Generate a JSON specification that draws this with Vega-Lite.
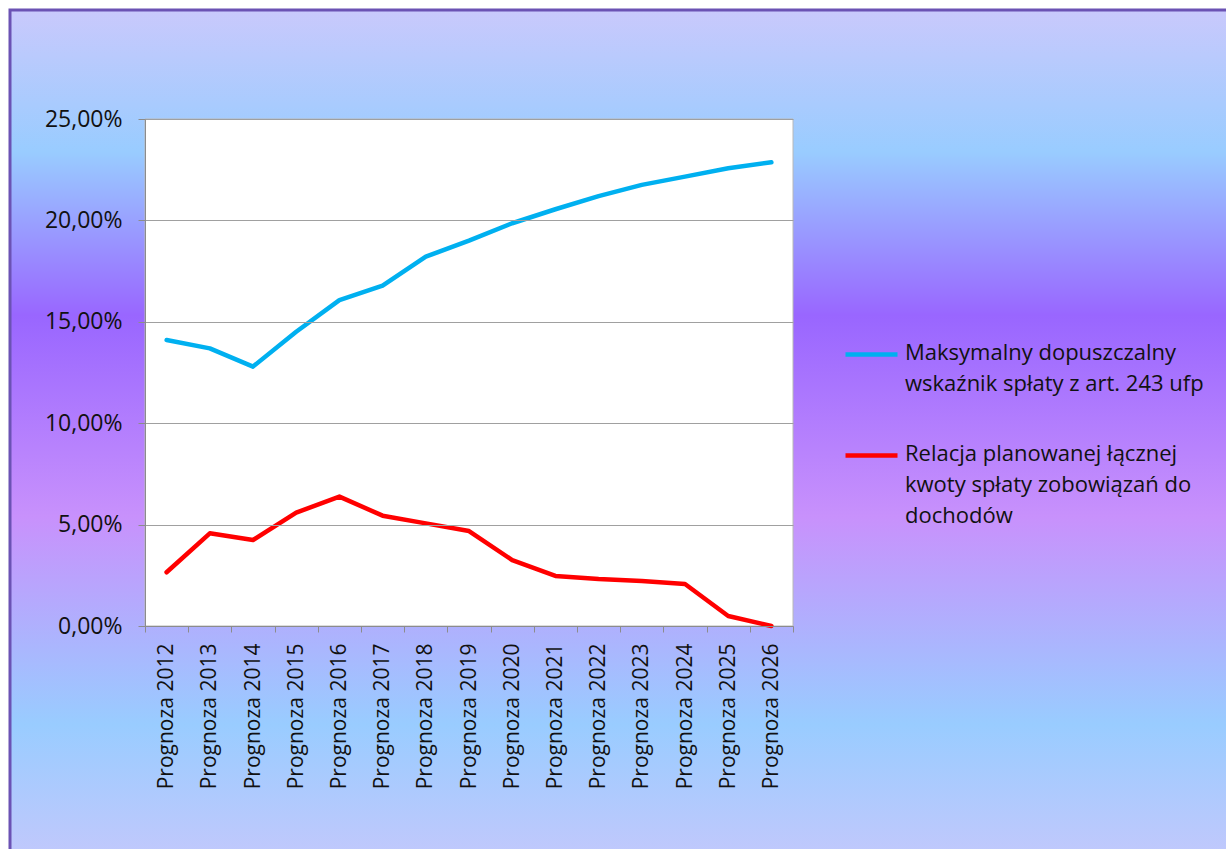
{
  "$schema": "https://vega.github.io/schema/vega-lite/v6.json",
  "width": 648,
  "height": 507,
  "autosize": {"type": "none"},
  "padding": {"left": 145, "top": 119, "right": 433, "bottom": 223},
  "background": "white",
  "config": {
    "view": {"stroke": null},
    "font": "Open Sans"
  },
  "layer": [
    {
      "data": {"values": [{}]},
      "mark": {
        "type": "rect",
        "x": -135, "y": -109, "x2": 1090, "y2": 740,
        "stroke": "#6b52b4", "strokeWidth": 3,
        "fill": {
          "gradient": "linear", "x1": 0, "y1": 0, "x2": 0, "y2": 1,
          "stops": [
            {"offset": 0, "color": "#c9c9fc"},
            {"offset": 0.167, "color": "#99ccff"},
            {"offset": 0.36, "color": "#9966ff"},
            {"offset": 0.597, "color": "#c891fc"},
            {"offset": 0.841, "color": "#99ccff"},
            {"offset": 1, "color": "#c2c8fc"}
          ]
        }
      },
      "encoding": {}
    },
    {
      "data": {"values": [{}]},
      "mark": {
        "type": "rect",
        "x": 0, "y": 0, "x2": 648, "y2": 507,
        "fill": "white", "stroke": "#b8b8b8", "strokeWidth": 1
      },
      "encoding": {}
    },
    {
      "data": {
        "values": [
          {"rok": "Prognoza 2012", "seria": "Maksymalny dopuszczalny wskaźnik spłaty z art. 243 ufp", "wartosc": 0.1410},
          {"rok": "Prognoza 2013", "seria": "Maksymalny dopuszczalny wskaźnik spłaty z art. 243 ufp", "wartosc": 0.1369},
          {"rok": "Prognoza 2014", "seria": "Maksymalny dopuszczalny wskaźnik spłaty z art. 243 ufp", "wartosc": 0.1279},
          {"rok": "Prognoza 2015", "seria": "Maksymalny dopuszczalny wskaźnik spłaty z art. 243 ufp", "wartosc": 0.1451},
          {"rok": "Prognoza 2016", "seria": "Maksymalny dopuszczalny wskaźnik spłaty z art. 243 ufp", "wartosc": 0.1607},
          {"rok": "Prognoza 2017", "seria": "Maksymalny dopuszczalny wskaźnik spłaty z art. 243 ufp", "wartosc": 0.1678},
          {"rok": "Prognoza 2018", "seria": "Maksymalny dopuszczalny wskaźnik spłaty z art. 243 ufp", "wartosc": 0.1821},
          {"rok": "Prognoza 2019", "seria": "Maksymalny dopuszczalny wskaźnik spłaty z art. 243 ufp", "wartosc": 0.1900},
          {"rok": "Prognoza 2020", "seria": "Maksymalny dopuszczalny wskaźnik spłaty z art. 243 ufp", "wartosc": 0.1986},
          {"rok": "Prognoza 2021", "seria": "Maksymalny dopuszczalny wskaźnik spłaty z art. 243 ufp", "wartosc": 0.2055},
          {"rok": "Prognoza 2022", "seria": "Maksymalny dopuszczalny wskaźnik spłaty z art. 243 ufp", "wartosc": 0.2120},
          {"rok": "Prognoza 2023", "seria": "Maksymalny dopuszczalny wskaźnik spłaty z art. 243 ufp", "wartosc": 0.2175},
          {"rok": "Prognoza 2024", "seria": "Maksymalny dopuszczalny wskaźnik spłaty z art. 243 ufp", "wartosc": 0.2216},
          {"rok": "Prognoza 2025", "seria": "Maksymalny dopuszczalny wskaźnik spłaty z art. 243 ufp", "wartosc": 0.2257},
          {"rok": "Prognoza 2026", "seria": "Maksymalny dopuszczalny wskaźnik spłaty z art. 243 ufp", "wartosc": 0.2287},
          {"rok": "Prognoza 2012", "seria": "Relacja planowanej łącznej kwoty spłaty zobowiązań do dochodów", "wartosc": 0.0265},
          {"rok": "Prognoza 2013", "seria": "Relacja planowanej łącznej kwoty spłaty zobowiązań do dochodów", "wartosc": 0.0457},
          {"rok": "Prognoza 2014", "seria": "Relacja planowanej łącznej kwoty spłaty zobowiązań do dochodów", "wartosc": 0.0424},
          {"rok": "Prognoza 2015", "seria": "Relacja planowanej łącznej kwoty spłaty zobowiązań do dochodów", "wartosc": 0.0559},
          {"rok": "Prognoza 2016", "seria": "Relacja planowanej łącznej kwoty spłaty zobowiązań do dochodów", "wartosc": 0.0638},
          {"rok": "Prognoza 2017", "seria": "Relacja planowanej łącznej kwoty spłaty zobowiązań do dochodów", "wartosc": 0.0544},
          {"rok": "Prognoza 2018", "seria": "Relacja planowanej łącznej kwoty spłaty zobowiązań do dochodów", "wartosc": 0.0506},
          {"rok": "Prognoza 2019", "seria": "Relacja planowanej łącznej kwoty spłaty zobowiązań do dochodów", "wartosc": 0.0468},
          {"rok": "Prognoza 2020", "seria": "Relacja planowanej łącznej kwoty spłaty zobowiązań do dochodów", "wartosc": 0.0325},
          {"rok": "Prognoza 2021", "seria": "Relacja planowanej łącznej kwoty spłaty zobowiązań do dochodów", "wartosc": 0.0247},
          {"rok": "Prognoza 2022", "seria": "Relacja planowanej łącznej kwoty spłaty zobowiązań do dochodów", "wartosc": 0.0232},
          {"rok": "Prognoza 2023", "seria": "Relacja planowanej łącznej kwoty spłaty zobowiązań do dochodów", "wartosc": 0.0222},
          {"rok": "Prognoza 2024", "seria": "Relacja planowanej łącznej kwoty spłaty zobowiązań do dochodów", "wartosc": 0.0207},
          {"rok": "Prognoza 2025", "seria": "Relacja planowanej łącznej kwoty spłaty zobowiązań do dochodów", "wartosc": 0.0049},
          {"rok": "Prognoza 2026", "seria": "Relacja planowanej łącznej kwoty spłaty zobowiązań do dochodów", "wartosc": 0.0}
        ]
      },
      "mark": {"type": "line", "strokeWidth": 4.5, "strokeCap": "round", "strokeJoin": "round", "zindex": 2},
      "encoding": {
        "x": {
          "field": "rok", "type": "ordinal", "bandPosition": 0.5,
          "scale": {"type": "band", "paddingInner": 0, "paddingOuter": 0},
          "axis": {
            "title": null, "labelAngle": -90, "tickBand": "extent", "tickSize": 6,
            "tickColor": "#8c8c8c", "domainColor": "#8c8c8c", "labelPadding": 11,
            "labelFont": "Open Sans", "labelFontSize": 21, "labelColor": "#111111",
            "grid": false, "zindex": 1
          }
        },
        "y": {
          "field": "wartosc", "type": "quantitative",
          "scale": {"domain": [0, 0.25], "nice": false},
          "axis": {
            "title": null, "values": [0, 0.05, 0.1, 0.15, 0.2, 0.25],
            "labelExpr": "replace(format(datum.value, '.2%'), '.', ',')",
            "tickSize": 7, "labelPadding": 16, "grid": true,
            "gridColor": "#a0a0a0", "gridWidth": 1.2, "domainColor": "#8c8c8c", "tickColor": "#8c8c8c",
            "labelFont": "Open Sans", "labelFontSize": 23, "labelColor": "#111111", "zindex": 1
          }
        },
        "color": {
          "field": "seria", "type": "nominal",
          "scale": {
            "domain": ["Maksymalny dopuszczalny wskaźnik spłaty z art. 243 ufp", "Relacja planowanej łącznej kwoty spłaty zobowiązań do dochodów"],
            "range": ["#00b0f0", "#ff0000"]
          },
          "legend": {
            "orient": "none", "legendX": 698, "legendY": 207, "title": null,
            "symbolType": "stroke", "symbolSize": 2704, "symbolStrokeWidth": 4.5,
            "labelFont": "Open Sans", "labelFontSize": 22, "labelColor": "#111111",
            "labelLimit": 400, "labelOffset": 5, "rowPadding": 32, "padding": 0,
            "labelBaseline": "top",
            "labelExpr": "indexof(datum.label, 'Maks') == 0 ? ['Maksymalny dopuszczalny', 'wskaźnik spłaty z art. 243 ufp'] : ['Relacja planowanej łącznej', 'kwoty spłaty zobowiązań do', 'dochodów']",
            "encode": {"labels": {"update": {"lineHeight": {"value": 31}, "dy": {"value": -12}}}}
          }
        }
      }
    }
  ]
}
